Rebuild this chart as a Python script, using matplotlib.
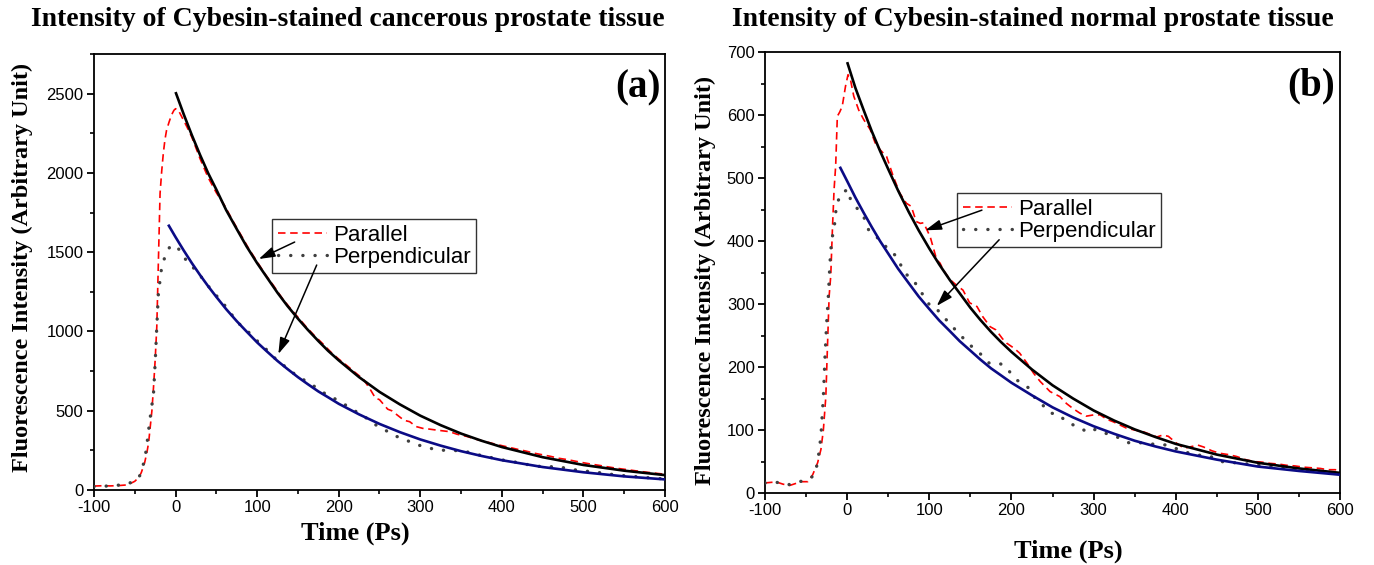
import matplotlib
matplotlib.use("Agg")
import matplotlib.pyplot as plt
from matplotlib.ticker import MultipleLocator

# ---------------- data: panel (a) cancerous ----------------
a_par_t = [-100, -90, -80, -70, -60, -55, -50, -45, -42, -38, -35, -33, -31, -29, -27, -25, -23, -22, -21,
           -20, -19, -17, -15, -13, -11, -8, -5, -2, 0, 3, 6, 10, 14, 20, 30, 40, 50, 60, 70, 80, 90, 100,
           110, 120, 130, 140, 150, 160, 170, 180, 190, 200, 210, 220, 230, 238, 245, 250, 255, 260, 265,
           270, 280, 287, 295, 303, 310, 320, 336, 345, 357, 370, 380, 390, 400, 410, 420, 430, 440, 450,
           460, 470, 480, 490, 500, 510, 520, 530, 541, 550, 560, 570, 580, 590, 600]
a_par_v = [25, 27, 26, 28, 32, 42, 55, 80, 110, 170, 240, 300, 400, 500, 650, 820, 1030, 1240, 1450,
           1660, 1870, 2010, 2124, 2210, 2270, 2320, 2365, 2395, 2405, 2400, 2370, 2330, 2290, 2225, 2090,
           1970, 1875, 1795, 1700, 1610, 1520, 1440, 1360, 1290, 1215, 1150, 1090, 1030, 975, 925, 872,
           826, 785, 742, 700, 640, 580, 570, 540, 510, 500, 480, 440, 431, 400, 389, 385, 378, 368, 352,
           338, 318, 305, 292, 280, 268, 256, 245, 232, 222, 212, 200, 192, 182, 172, 163, 155, 146, 137,
           131, 124, 117, 111, 105, 100]

a_per_t = [-100, -88, -75, -62, -50, -44, -40, -36, -33, -30, -27, -25, -23, -21, -19, -17, -13, -7, -1,
           7, 15, 25, 35, 44, 55, 65, 75, 87, 99, 112, 124, 137, 150, 165, 179, 191, 205, 218, 230, 242,
           255, 267, 280, 293, 308, 321, 335, 349, 363, 377, 392, 405, 418, 430, 441, 455, 469, 483, 496,
           512, 526, 540, 555, 570, 585, 600]
a_per_v = [22, 24, 28, 35, 55, 90, 150, 250, 380, 500, 610, 800, 1030, 1240, 1324, 1408, 1471, 1535, 1545,
           1503, 1430, 1388, 1320, 1261, 1198, 1135, 1061, 1009, 946, 883, 820, 768, 715, 673, 620, 588,
           547, 504, 470, 420, 385, 345, 322, 290, 269, 252, 250, 248, 235, 214, 200, 185, 175, 162, 151,
           147, 147, 133, 122, 115, 105, 95, 88, 82, 75, 70]

a_fitpar_t = [0, 10, 20, 30, 40, 50, 62, 75, 87, 100, 112, 125, 137, 150, 162, 175, 187, 200, 225, 250,
              275, 300, 325, 350, 375, 400, 450, 500, 550, 600]
a_fitpar_v = [2510, 2370, 2238, 2114, 1998, 1895, 1766, 1646, 1537, 1431, 1341, 1244, 1162, 1081, 1011,
              940, 878, 818, 712, 619, 540, 469, 409, 356, 311, 271, 207, 158, 122, 94]

a_fitper_t = [-9, 0, 10, 20, 30, 40, 50, 62, 75, 87, 100, 112, 125, 137, 150, 162, 175, 187, 200, 225,
              250, 275, 300, 325, 350, 375, 400, 450, 500, 550, 600]
a_fitper_v = [1674, 1595, 1511, 1431, 1356, 1285, 1218, 1141, 1065, 1000, 931, 874, 814, 764, 712, 668,
              622, 585, 544, 477, 417, 365, 319, 280, 245, 215, 188, 145, 112, 86, 67]

# ---------------- data: panel (b) normal ----------------
b_par_t = [-100, -92, -85, -78, -70, -63, -56, -48, -42, -36, -32, -29, -26, -24, -22, -20, -18, -16, -14,
           -12, -9, -6, -2, 1, 4, 8, 14, 20, 28, 34, 40, 48, 56, 64, 72, 78, 84, 89, 93, 101, 109, 113,
           117, 125, 133, 141, 149, 158, 165, 174, 181, 189, 194, 203, 210, 219, 227, 235, 247, 259, 267,
           275, 283, 291, 300, 308, 316, 324, 332, 340, 350, 361, 369, 377, 384, 391, 400, 410, 420, 427,
           434, 444, 454, 464, 474, 485, 495, 505, 515, 525, 535, 545, 556, 566, 576, 585, 594, 600]
b_par_v = [16, 17, 17, 14, 12, 15, 18, 18, 29, 48, 69, 100, 153, 233, 312, 345, 418, 481, 520,
           598, 605, 614, 646, 664, 656, 630, 608, 593, 577, 556, 545, 534, 503, 476, 460, 455, 431, 428,
           429, 407, 370, 365, 354, 339, 330, 322, 302, 296, 280, 264, 259, 245, 238, 230, 222, 206, 190,
           177, 161, 153, 142, 134, 127, 122, 124, 124, 117, 113, 108, 103, 100, 97, 93, 89, 92, 90, 80,
           71, 74, 76, 73, 67, 63, 61, 58, 53, 50, 49, 47, 46, 44, 43, 41, 40, 39, 37, 37, 36]

b_per_t = [-100, -86, -72, -58, -46, -40, -36, -32, -29, -27, -25, -23, -21, -19, -16, -13, -7, 1, 4, 12,
           20, 26, 34, 42, 50, 60, 70, 80, 88, 100, 107, 115, 123, 131, 139, 149, 157, 165, 173, 185, 193,
           203, 211, 222, 229, 237, 247, 257, 267, 282, 294, 302, 314, 325, 335, 344, 355, 368, 380, 391,
           405, 417, 429, 441, 454, 466, 478, 490, 503, 515, 528, 540, 552, 564, 578, 592, 600]
b_per_v = [16, 17, 13, 18, 22, 29, 48, 90, 153, 217, 270, 312, 365, 402, 418, 458, 476, 482, 466, 452,
           439, 418, 408, 400, 386, 376, 349, 339, 323, 299, 296, 282, 272, 260, 249, 235, 228, 217, 206,
           206, 201, 183, 175, 166, 150, 141, 127, 125, 113, 104, 96, 101, 95, 91, 85, 79, 80, 78, 77, 76,
           68, 63, 60, 59, 50, 49, 47, 46, 44, 42, 40, 39, 38, 36, 34, 31, 30]

b_fitpar_t = [0, 10, 20, 30, 40, 50, 62, 75, 87, 100, 112, 125, 137, 150, 162, 175, 187, 200, 225, 250,
              275, 300, 325, 350, 375, 400, 450, 500, 550, 600]
b_fitpar_v = [684, 643, 608, 574, 543, 514, 480, 446, 417, 388, 363, 338, 317, 294, 275, 256, 240, 224,
              196, 171, 150, 131, 115, 101, 89, 78, 61, 48, 39, 32]

b_fitper_t = [-9, 0, 10, 20, 30, 40, 50, 62, 75, 87, 100, 112, 125, 137, 150, 162, 175, 187, 200, 225,
              250, 275, 300, 325, 350, 375, 400, 450, 500, 550, 600]
b_fitper_v = [518, 495, 469, 445, 422, 400, 380, 356, 333, 312, 292, 274, 257, 241, 226, 212, 198, 187,
              175, 155, 136, 120, 106, 94, 83, 74, 66, 53, 42, 35, 29]

titles = ["Intensity of Cybesin-stained cancerous prostate tissue",
          "Intensity of Cybesin-stained normal prostate tissue"]
panel_tags = ["(a)", "(b)"]
legend_labels = ["Parallel", "Perpendicular"]
xlabel = "Time (Ps)"
ylabel = "Fluorescence Intensity (Arbitrary Unit)"

SERIF = ["Liberation Serif", "DejaVu Serif"]
SANS = ["Liberation Sans", "DejaVu Sans"]
plt.rcParams["font.family"] = SANS
plt.rcParams["axes.unicode_minus"] = False

fig = plt.figure(figsize=(13.74, 5.65), dpi=100)
axA = fig.add_axes([0.0684, 0.1327, 0.4156, 0.7717])
axB = fig.add_axes([0.5568, 0.1274, 0.4185, 0.7805])

RED = "#ff0000"
GRAY = "#404040"
NAVY = "#0b0b85"


def draw(ax, par_t, par_v, per_t, per_v, fpt, fpv, fqt, fqv):
    ax.plot(par_t, par_v, color=RED, lw=1.2, ls=(0, (4.5, 2.8)), label=legend_labels[0], zorder=3)
    ax.plot(per_t, per_v, color=GRAY, lw=2.4, ls=(0, (0.05, 3.6)), dash_capstyle="round",
            label=legend_labels[1], zorder=3)
    ax.plot(fpt, fpv, color="black", lw=1.9, zorder=4, solid_capstyle="butt")
    ax.plot(fqt, fqv, color=NAVY, lw=1.9, zorder=4, solid_capstyle="butt")


draw(axA, a_par_t, a_par_v, a_per_t, a_per_v, a_fitpar_t, a_fitpar_v, a_fitper_t, a_fitper_v)
draw(axB, b_par_t, b_par_v, b_per_t, b_per_v, b_fitpar_t, b_fitpar_v, b_fitper_t, b_fitper_v)

axA.set_xlim(-100, 600)
axA.set_ylim(0, 2750)
axA.yaxis.set_major_locator(MultipleLocator(500))
axA.yaxis.set_minor_locator(MultipleLocator(250))
axB.set_xlim(-100, 600)
axB.set_ylim(0, 700)
axB.yaxis.set_major_locator(MultipleLocator(100))
axB.yaxis.set_minor_locator(MultipleLocator(50))

for ax in (axA, axB):
    ax.xaxis.set_major_locator(MultipleLocator(100))
    ax.xaxis.set_minor_locator(MultipleLocator(50))
    for s in ax.spines.values():
        s.set_linewidth(1.3)
    ax.tick_params(which="major", direction="out", length=5, width=1.3, labelsize=12, pad=2.5,
                   top=False, right=False)
    ax.tick_params(which="minor", direction="out", length=3, width=1.2, top=False, right=False)

# legends
leg_kw = dict(loc="upper left", fontsize=16, frameon=True, fancybox=False, edgecolor="black",
              handlelength=2.2, handletextpad=0.3, borderpad=0.25, labelspacing=0.05, borderaxespad=0)
legA = axA.legend(bbox_to_anchor=(0.312, 0.6216), **leg_kw)
legB = axB.legend(bbox_to_anchor=(0.334, 0.680), **leg_kw)
for leg in (legA, legB):
    leg.get_frame().set_linewidth(1.0)

arrow = dict(arrowstyle="-|>,head_length=0.7,head_width=0.22", color="black", lw=1.1,
             mutation_scale=14, shrinkA=0, shrinkB=0)
axA.annotate("", xy=(102, 1457), xytext=(146, 1564), arrowprops=arrow, zorder=6)
axA.annotate("", xy=(126, 858), xytext=(173, 1419), arrowprops=arrow, zorder=6)
axB.annotate("", xy=(95, 417), xytext=(164, 449), arrowprops=arrow, zorder=6)
axB.annotate("", xy=(109, 297), xytext=(185, 402), arrowprops=arrow, zorder=6)

# panel tags
axA.text(0.993, 0.965, panel_tags[0], transform=axA.transAxes, ha="right", va="top",
         fontsize=28, fontweight="bold", family=SERIF)
axB.text(0.991, 0.965, panel_tags[1], transform=axB.transAxes, ha="right", va="top",
         fontsize=28, fontweight="bold", family=SERIF)

# axis labels
for ax, xl, yl in ((axA, (0.457, -0.099), (-0.126, 0.511)), (axB, (0.527, -0.1315), (-0.104, 0.483))):
    ax.set_xlabel(xlabel, fontsize=19, fontweight="bold", family=SERIF)
    ax.set_ylabel(ylabel, fontsize=17.5, fontweight="bold", family=SERIF)
    ax.xaxis.set_label_coords(*xl)
    ax.yaxis.set_label_coords(*yl)
    ax.xaxis.label.set_va("center")
    ax.yaxis.label.set_va("center")

# titles
fig.text(348 / 1374, 1 - 20 / 565, titles[0], ha="center", va="center", fontsize=20,
         fontweight="bold", family=SERIF)
fig.text(1033 / 1374, 1 - 20 / 565, titles[1], ha="center", va="center", fontsize=20,
         fontweight="bold", family=SERIF)

fig.savefig("out.png", dpi=100)
